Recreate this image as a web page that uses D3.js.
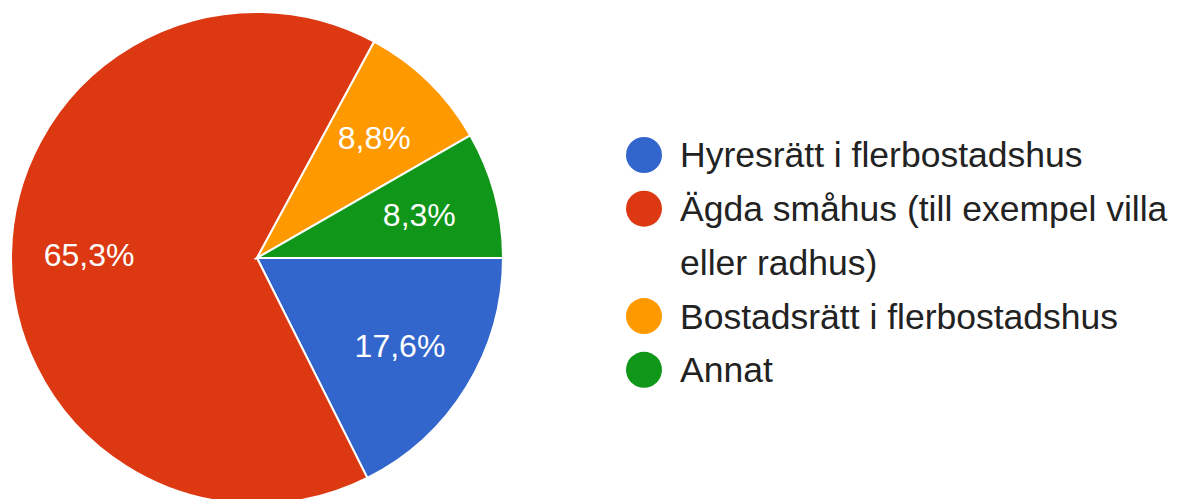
<!DOCTYPE html>
<html>
<head>
<meta charset="utf-8">
<script src="https://cdn.jsdelivr.net/npm/d3@7"></script>
<style>
  body { margin: 0; background: #fff; }
  text { font-family: "Liberation Sans", Arial, sans-serif; }
</style>
</head>
<body>
<svg width="1182" height="499"></svg>
<script>
const categories = [
  "Hyresrätt i flerbostadshus",
  "Ägda småhus (till exempel villa eller radhus)",
  "Bostadsrätt i flerbostadshus",
  "Annat"
];
const values = [17.6, 65.3, 8.8, 8.3];
const colors = ["#3366cc", "#dc3912", "#ff9900", "#109618"];

const data = categories.map((c, i) => ({ name: c, value: values[i] }));

const svg = d3.select("svg");
const cx = 257, cy = 258, radius = 246;

const color = d3.scaleOrdinal().domain(categories).range(colors);
const fmt = v => d3.format(".1f")(v).replace(".", ",") + "%";

const pie = d3.pie()
  .sort(null)
  .value(d => d.value)
  .startAngle(Math.PI / 2)
  .endAngle(Math.PI / 2 + 2 * Math.PI);

const arc = d3.arc().innerRadius(0).outerRadius(radius);
const labelArc = d3.arc().innerRadius(168).outerRadius(168);

const g = svg.append("g").attr("transform", `translate(${cx},${cy})`);

const arcs = pie(data);

g.selectAll("path")
  .data(arcs)
  .enter()
  .append("path")
  .attr("d", arc)
  .attr("fill", d => color(d.data.name))
  .attr("stroke", "#fff")
  .attr("stroke-width", 2);

g.selectAll("text.lbl")
  .data(arcs)
  .enter()
  .append("text")
  .attr("class", "lbl")
  .attr("transform", d => `translate(${labelArc.centroid(d)})`)
  .attr("text-anchor", "middle")
  .attr("dy", "0.34em")
  .style("font-size", "32px")
  .style("fill", "#fff")
  .text(d => fmt(d.data.value));

// legend
const legendX = 644, textX = 680, rowH = 53.7, maxW = 520;
const legend = svg.append("g");
let y = 155;
data.forEach(d => {
  legend.append("circle")
    .attr("cx", legendX)
    .attr("cy", y)
    .attr("r", 18)
    .attr("fill", color(d.name));

  const t = legend.append("text")
    .attr("x", textX)
    .style("font-size", "35.5px")
    .style("fill", "#222");

  // wrap words by width
  const words = d.name.split(" ");
  let line = [];
  let lineY = y;
  let tspan = t.append("tspan").attr("x", textX).attr("y", lineY).attr("dy", "0.35em");
  words.forEach(w => {
    line.push(w);
    tspan.text(line.join(" "));
    if (tspan.node().getComputedTextLength() > maxW && line.length > 1) {
      line.pop();
      tspan.text(line.join(" "));
      line = [w];
      lineY += rowH;
      tspan = t.append("tspan").attr("x", textX).attr("y", lineY).attr("dy", "0.35em").text(w);
    }
  });
  y = lineY + rowH;
});
</script>
</body>
</html>
